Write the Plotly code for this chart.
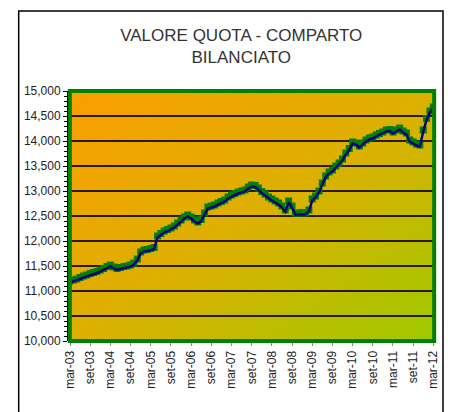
import base64
import plotly.graph_objects as go

# ---- data (monthly values, mar-03 .. mar-12) ----
values = [
    11200, 11220, 11240, 11270, 11300, 11320, 11350, 11370, 11390, 11420,
    11450, 11490, 11520, 11480, 11450, 11470, 11490, 11500, 11520, 11560,
    11640, 11780, 11820, 11830, 11850, 11870, 12100, 12150, 12200, 12230,
    12260, 12300, 12360, 12420, 12480, 12520, 12480, 12420, 12380, 12430,
    12560, 12680, 12700, 12720, 12760, 12790, 12820, 12880, 12920, 12950,
    12980, 13000, 13020, 13080, 13120, 13110, 13060, 12990, 12940, 12880,
    12840, 12800, 12760, 12700, 12620, 12800, 12700, 12560, 12560, 12570,
    12560, 12620, 12840, 12900, 13000, 13160, 13300, 13380, 13420, 13500,
    13560, 13640, 13760, 13850, 13980, 13960, 13900, 13960, 14020, 14060,
    14080, 14120, 14150, 14180, 14220, 14230, 14180, 14220, 14260, 14200,
    14160, 14020, 13980, 13940, 13920, 14220, 14450, 14600, 14680,
]
months = list(range(len(values)))
tick_labels = ["mar-03", "set-03", "mar-04", "set-04", "mar-05", "set-05",
               "mar-06", "set-06", "mar-07", "set-07", "mar-08", "set-08",
               "mar-09", "set-09", "mar-10", "set-10", "mar-11", "set-11",
               "mar-12"]
tick_positions = [i * 6 for i in range(len(tick_labels))]
y_ticks = [10000, 10500, 11000, 11500, 12000, 12500, 13000, 13500, 14000, 14500, 15000]
y_tick_labels = ["10,000", "10,500", "11,000", "11,500", "12,000", "12,500",
                 "13,000", "13,500", "14,000", "14,500", "15,000"]

# gradient background as an SVG image
svg = ('<svg xmlns="http://www.w3.org/2000/svg" width="400" height="260" '
       'preserveAspectRatio="none" viewBox="0 0 400 260">'
       '<defs><linearGradient id="g" x1="0" y1="0" x2="1" y2="1">'
       '<stop offset="0" stop-color="#FB9E00"/>'
       '<stop offset="0.5" stop-color="#DDB000"/>'
       '<stop offset="1" stop-color="#A0CA00"/>'
       '</linearGradient></defs>'
       '<rect width="400" height="260" fill="url(#g)"/></svg>')
svg_uri = "data:image/svg+xml;base64," + base64.b64encode(svg.encode()).decode()

Y_RANGE = [10000, 15000]
LINE_SHIFT = 30  # draws the navy line ~1.5 px below the green markers (shadow look)

fig = go.Figure()
fig.add_trace(go.Scatter(
    x=months, y=values, mode="lines", yaxis="y2",
    line=dict(color="#000080", width=2.5),
    hoverinfo="skip", showlegend=False,
))
fig.add_trace(go.Scatter(
    x=months, y=values, mode="markers",
    marker=dict(symbol="square", size=7, color="#008000", line=dict(width=0)),
    hoverinfo="skip", showlegend=False,
))

fig.update_layout(
    width=451, height=412,
    margin=dict(l=68, r=11, t=91, b=71),
    paper_bgcolor="white",
    plot_bgcolor="rgba(0,0,0,0)",
    font=dict(family="Liberation Sans, Arial, sans-serif", color="#222222"),
    title=dict(
        text="VALORE QUOTA - COMPARTO<br>BILANCIATO",
        x=0.535, xanchor="center", y=0.90, yanchor="top",
        font=dict(size=17, color="#333333", family="Liberation Sans, Arial, sans-serif"),
    ),
    images=[dict(source=svg_uri, xref="paper", yref="paper", x=0, y=1,
                 sizex=1, sizey=1, sizing="stretch", layer="below",
                 xanchor="left", yanchor="top")],
    xaxis=dict(
        range=[-0.6, 108.8],
        tickmode="array", tickvals=tick_positions, ticktext=tick_labels,
        tickangle=-90, tickfont=dict(size=12, color="#222222"),
        ticks="outside", ticklen=4, tickcolor="#888888",
        showgrid=False, zeroline=False, showline=False,
    ),
    yaxis=dict(
        range=Y_RANGE,
        tickmode="array", tickvals=y_ticks, ticktext=y_tick_labels,
        tickfont=dict(size=12, color="#222222"),
        ticks="outside", ticklen=4, tickcolor="#000000",
        minor=dict(dtick=100, ticks="outside", ticklen=3, tickcolor="#000000", showgrid=False),
        showgrid=True, gridcolor="#2a1a00", gridwidth=1.5,
        zeroline=False, showline=True, linecolor="#000000", linewidth=1,
    ),
    yaxis2=dict(
        range=[Y_RANGE[0] + LINE_SHIFT, Y_RANGE[1] + LINE_SHIFT],
        overlaying="y", side="right", visible=False, showgrid=False,
    ),
    shapes=[
        dict(type="rect", xref="paper", yref="paper", x0=0.005, x1=0.995, y0=0, y1=1,
             line=dict(color="#008000", width=4), fillcolor="rgba(0,0,0,0)", layer="above"),
        dict(type="rect", xref="paper", yref="paper", x0=-0.134, x1=1.019, y0=-0.32, y1=1.32,
             line=dict(color="#000000", width=1.5), fillcolor="rgba(0,0,0,0)", layer="above"),
    ],
)

fig.write_html("out.html", config={"displayModeBar": False},
               post_script="document.body.style.margin='0';")
